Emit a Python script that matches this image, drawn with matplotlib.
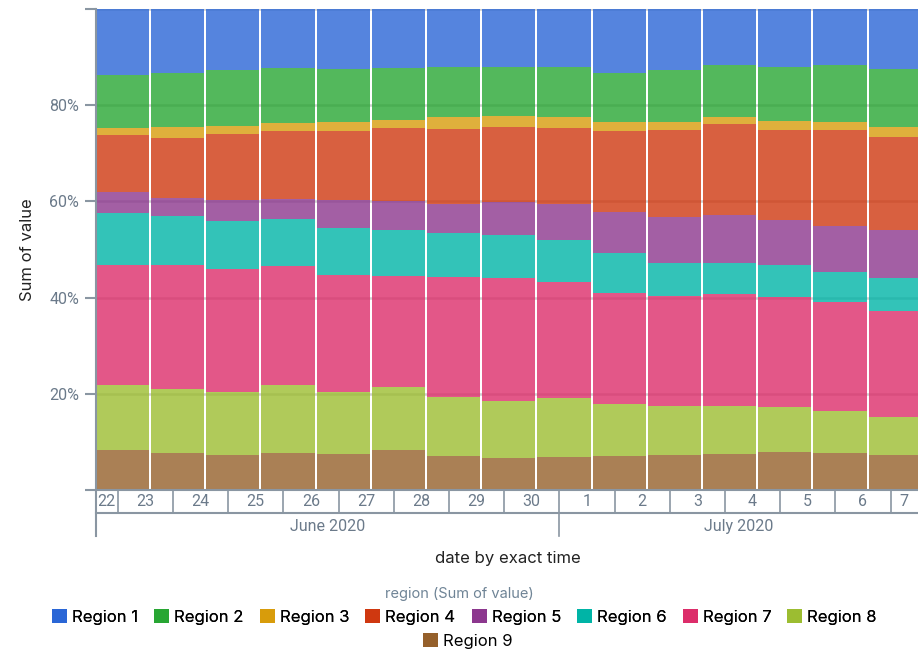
import numpy as np
import pandas as pd
import matplotlib
matplotlib.use('Agg')
import matplotlib.pyplot as plt
from matplotlib.patches import Patch

# one bar per day, June 23 .. July 7 2020
dates = pd.date_range('2020-06-23', '2020-07-07', freq='D')
day_labels = ['22', '23', '24', '25', '26', '27', '28', '29', '30',
              '1', '2', '3', '4', '5', '6', '7']
month_labels = ['June 2020', 'July 2020']

regions = ['Region 1', 'Region 2', 'Region 3', 'Region 4', 'Region 5',
           'Region 6', 'Region 7', 'Region 8', 'Region 9']
colors = ['#2a66d6', '#28a633', '#d89c0b', '#cf3810', '#8c378e',
          '#00b4a6', '#dc2d6a', '#9cbd31', '#95602b']

# share of value (%) per region and day
region_1 = [13.7, 13.3, 12.7, 12.3, 12.5, 12.3, 12.1, 12.1, 12.1, 13.3, 12.7, 11.7, 12.1, 11.5, 12.4]
region_2 = [11.1, 11.3, 11.5, 11.4, 11.0, 10.8, 10.4, 10.2, 10.4, 10.2, 10.8, 10.7, 11.2, 12.0, 12.0]
region_3 = [1.4, 2.1, 1.8, 1.7, 1.9, 1.7, 2.5, 2.3, 2.3, 1.9, 1.7, 1.4, 1.8, 1.6, 2.1]
region_4 = [11.9, 12.5, 13.6, 14.0, 14.2, 15.2, 15.6, 15.6, 15.8, 16.7, 18.1, 19.1, 18.7, 20.1, 19.5]
region_5 = [4.4, 3.9, 4.4, 4.3, 6.0, 6.0, 5.9, 6.7, 7.5, 8.7, 9.6, 9.9, 9.4, 9.4, 9.9]
region_6 = [10.8, 10.2, 10.0, 9.8, 9.8, 9.6, 9.3, 9.1, 8.6, 8.2, 6.7, 6.5, 6.6, 6.4, 7.0]
region_7 = [25.0, 25.7, 25.6, 24.6, 24.2, 23.1, 25.0, 25.5, 24.3, 23.1, 22.9, 23.3, 23.0, 22.7, 21.9]
region_8 = [13.4, 13.3, 13.1, 14.2, 12.9, 13.0, 12.1, 12.0, 12.1, 10.8, 10.2, 9.9, 9.4, 8.7, 7.9]
region_9 = [8.3, 7.7, 7.3, 7.7, 7.5, 8.3, 7.1, 6.5, 6.9, 7.1, 7.3, 7.5, 7.8, 7.6, 7.3]

values = np.array([region_1, region_2, region_3, region_4, region_5,
                   region_6, region_7, region_8, region_9])
shares = values / values.sum(axis=0) * 100

axis_grey = '#8a96a2'
label_grey = '#6b7a8a'
tick_font = 'Roboto'
text_font = 'Inter'

origin = pd.Timestamp('2020-06-22')
x = np.array([(d - origin).days for d in dates]) + 0.085

fig = plt.figure(figsize=(9.18, 6.54), dpi=100)
ax = fig.add_axes([0.1043, 0.2512, 0.8957, 0.7346])

# stack from Region 9 at the bottom up to Region 1
bottom = np.zeros(len(dates))
for i in range(len(regions) - 1, -1, -1):
    ax.bar(x, shares[i], width=0.965, bottom=bottom, color=colors[i],
           alpha=0.8, linewidth=0, zorder=2)
    bottom += shares[i]

ax.set_xlim(0.601, 15.498)
ax.set_ylim(0, 100)
ax.set_yticks([0, 20, 40, 60, 80, 100])
ax.set_yticklabels(['', '20%', '40%', '60%', '80%', ''],
                   fontsize=11.5, color=label_grey, family=tick_font)
ax.tick_params(axis='y', length=8, width=1.5, color=axis_grey, pad=4)
ax.set_xticks([])
ax.grid(axis='y', color='#cfcfcf', linewidth=1.8, zorder=0)
ax.set_axisbelow(True)
for s in ['top', 'right']:
    ax.spines[s].set_visible(False)
for s in ['left', 'bottom']:
    ax.spines[s].set_color(axis_grey)
    ax.spines[s].set_linewidth(1.5)

ax.set_ylabel('Sum of value', fontsize=12, color='#222222', family=text_font,
              labelpad=10)

# two-row date axis under the plot
tr = ax.get_xaxis_transform()
row1 = -0.0479
row2 = -0.0957
x0, x1 = ax.get_xlim()
ax.plot([x0, x0], [0, row2], transform=tr, color=axis_grey, lw=1.5, clip_on=False)
ax.plot([x0, x1], [row1, row1], transform=tr, color=axis_grey, lw=1.5, clip_on=False)
for d in range(1, 16):
    ax.plot([d, d], [0, row1], transform=tr, color=axis_grey, lw=1.2, clip_on=False)
for d, lab in enumerate(day_labels):
    lo, hi = max(d, x0), min(d + 1, x1)
    ax.text((lo + hi) / 2, row1 / 2, lab, transform=tr, ha='center', va='center',
            fontsize=11.5, color=label_grey, family=tick_font)

july_start = 9
ax.plot([july_start, july_start], [row1, row2], transform=tr, color=axis_grey,
        lw=1.2, clip_on=False)
month_y = row1 - 0.0285
ax.text((x0 + july_start) / 2, month_y, month_labels[0], transform=tr,
        ha='center', va='center', fontsize=11.5, color=label_grey, family=tick_font)
ax.text((july_start + x1) / 2, month_y, month_labels[1], transform=tr,
        ha='center', va='center', fontsize=11.5, color=label_grey, family=tick_font)

fig.text(0.553, 1 - 558 / 654, 'date by exact time', ha='center', va='center',
         fontsize=12, color='#222222', family=text_font)

# legend
fig.text(0.5, 1 - 594 / 654, 'region (Sum of value)', ha='center', va='center',
         fontsize=10.5, color='#6f8496', family=text_font)
handles = [Patch(facecolor=c, edgecolor='none', label=r) for r, c in zip(regions, colors)]
leg1 = fig.legend(handles=handles[:8], loc='center', ncol=8,
                  bbox_to_anchor=(0.506, 1 - 617 / 654), frameon=False,
                  prop={'family': text_font, 'size': 12},
                  handlelength=0.9, handleheight=0.9, handletextpad=0.3,
                  columnspacing=0.96, borderpad=0)
fig.add_artist(leg1)
fig.legend(handles=handles[8:], loc='center', ncol=1,
           bbox_to_anchor=(0.51, 1 - 641 / 654), frameon=False,
           prop={'family': text_font, 'size': 12},
           handlelength=0.9, handleheight=0.9, handletextpad=0.3, borderpad=0)

fig.savefig('out.png', dpi=100)
